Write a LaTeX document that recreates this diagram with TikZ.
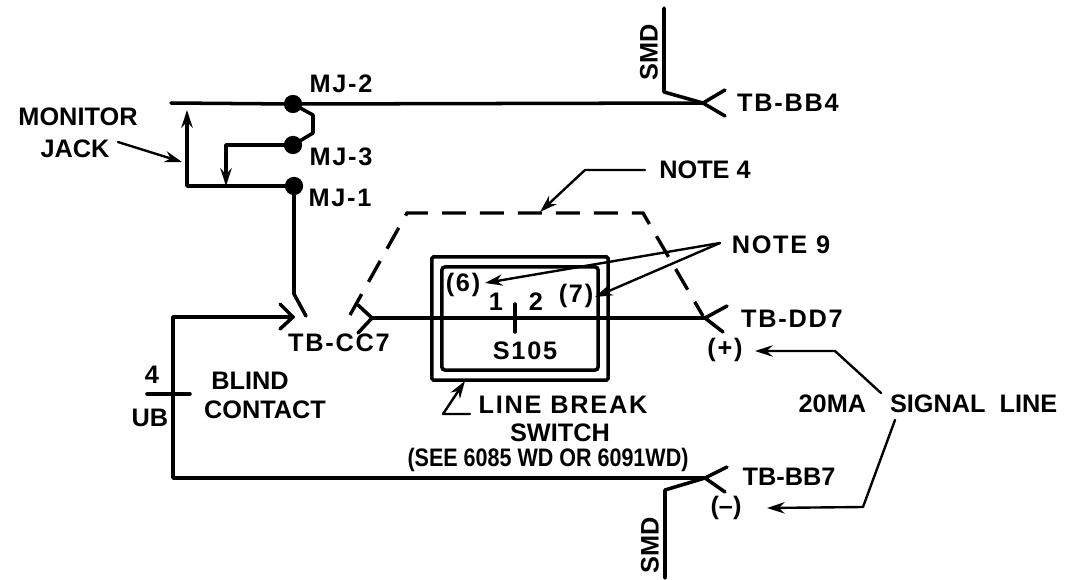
\documentclass[tikz,border=0pt]{standalone}
\usepackage{fontspec}
\setmainfont{Liberation Sans}[BoldFont=*  Bold]
\newfontfamily\spacedfont{Liberation Sans}[BoldFont=*  Bold,LetterSpace=7]
\usetikzlibrary{arrows.meta}
\tikzset{
  wire/.style={line width=2.5pt,line cap=round,line join=round},
  lead/.style={line width=1.7pt,line cap=round,line join=round},
  tip/.style={-{Stealth[length=12.5pt,width=8pt]}},
  lbl/.style={font=\bfseries\fontsize{18}{18}\selectfont,inner sep=0pt,anchor=center,text=black},
  slbl/.style={font=\spacedfont\bfseries\fontsize{18}{18}\selectfont,inner sep=0pt,anchor=center,text=black},
  dot/.style={circle,fill=black,inner sep=0pt,minimum size=13pt},
  dashbox/.style={line width=2.4pt,dash pattern=on 17pt off 10pt},
  boxline/.style={draw,line width=2.5pt,inner sep=0pt},
}
\begin{document}
\begin{tikzpicture}[x=0.025cm,y=-0.025cm]
\useasboundingbox (0,0) rectangle (1081,580);
% junctions
\node[dot] (mj2) at (293,104) {};
\node[dot] (mj3) at (293,145) {};
\node[dot] (mj1) at (294,186) {};
\coordinate (topstart) at (171,103);
\coordinate (bb4) at (703,103);
\coordinate (dd7) at (705,318);
\coordinate (bb7) at (705,478);
\coordinate (cc7l) at (293,317);
\coordinate (cc7r) at (372,318);
% main wires
\draw[wire] (topstart) -- (mj2) -- (bb4);
\draw[wire] (mj2.center) -- (313,115) -- (313,133) -- (mj3.center);
\draw[wire,tip] (mj3.center) -- (226,145) -- (226,186);
\draw[wire,tip] (mj1.center) -- (187,186) -- (187,110);
\draw[wire] (mj1.center) -- (294,294) -- (306,316);
\draw[wire] (280,304) -- (cc7l) -- (280,329);
\draw[wire] (cc7l) -- (173,317) -- (173,478) -- (bb7);
\draw[wire] (147,394) -- (190,394);
\draw[wire] (358,305) -- (cc7r) -- (358,333);
\draw[wire] (cc7r) -- (dd7);
\draw[wire] (727,306) -- (dd7) -- (723,332);
\draw[wire] (725,90) -- (bb4) -- (725,116);
\draw[wire] (727,467) -- (bb7) -- (725,492);
\draw[wire] (664,8) -- (664,92) -- (bb4);
\draw[wire] (bb7) -- (665,490) -- (665,578);
% dashed enclosure
\draw[dashbox] (350,315) -- (407,213) -- (643,213) -- (703,316);
% switch
\node[boxline,rounded corners=1pt,minimum width=4.4cm,minimum height=3.075cm] (outer) at (520,318.5) {};
\node[boxline,rounded corners=2pt,minimum width=3.9cm,minimum height=2.575cm] (inner) at (520,318.5) {};
\draw[wire] (515,304) -- (515,332);
% labels
\node[lbl] (tmon) at (78,117) {MONITOR};
\node[lbl] (tjack) at (75,149) {JACK};
\node[slbl] (tmj2) at (341,84) {MJ-2};
\node[slbl] (tmj3) at (341,157) {MJ-3};
\node[slbl] (tmj1) at (340,198) {MJ-1};
\node[slbl] (tcc) at (339,343) {TB-CC7};
\node[slbl] (tdd) at (792,319) {TB-DD7};
\node[slbl] (tbb4) at (788,103) {TB-BB4};
\node[lbl] (tbb7) at (789,477) {TB-BB7};
\node[slbl] (tplus) at (725,350) {(+)};
\node[lbl] (tminus) at (726,508) {(–)};
\node[lbl] (tn4) at (705,170) {NOTE 4};
\node[slbl] (tn9) at (781,245) {NOTE 9};
\node[slbl] (t6) at (463,285) {(6)};
\node[lbl] (t1) at (496,302) {1};
\node[lbl] (t2) at (536,302) {2};
\node[slbl] (t7) at (576,296) {(7)};
\node[slbl] (ts) at (525,351) {S105};
\node[slbl] (tlb) at (563,405) {LINE BREAK};
\node[lbl] (tsw) at (560,433) {SWITCH};
\node[lbl,xscale=0.85] (tsee) at (548,460) {(SEE 6085 WD OR 6091WD)};
\node[lbl] (t4) at (152,375) {4};
\node[lbl] (tub) at (150,418) {UB};
\node[lbl] (tbl) at (250,381) {BLIND};
\node[lbl] (tco) at (265,410) {CONTACT};
\node[lbl] (tsig) at (928,404) {20MA\hspace{12pt} SIGNAL\ \ LINE};
\node[lbl,rotate=90] (tsmd1) at (649,52) {SMD};
\node[lbl,rotate=90] (tsmd2) at (650,545) {SMD};
% leaders
\coordinate (n9o) at (720,243);
\draw[lead,tip] (118,142) -- (182,162);
\draw[lead,tip] (645,170) -- (585,170) -- (540,212);
\draw[lead,tip] (n9o) -- (485,283);
\draw[lead,tip] (n9o) -- (595,297);
\draw[lead,tip] (470,414) -- (443,414) -- (465,381);
\draw[lead,tip] (881,393) -- (835,351) -- (755,351);
\draw[lead,tip] (895,420) -- (863,507) -- (767,508);
\end{tikzpicture}
\end{document}
